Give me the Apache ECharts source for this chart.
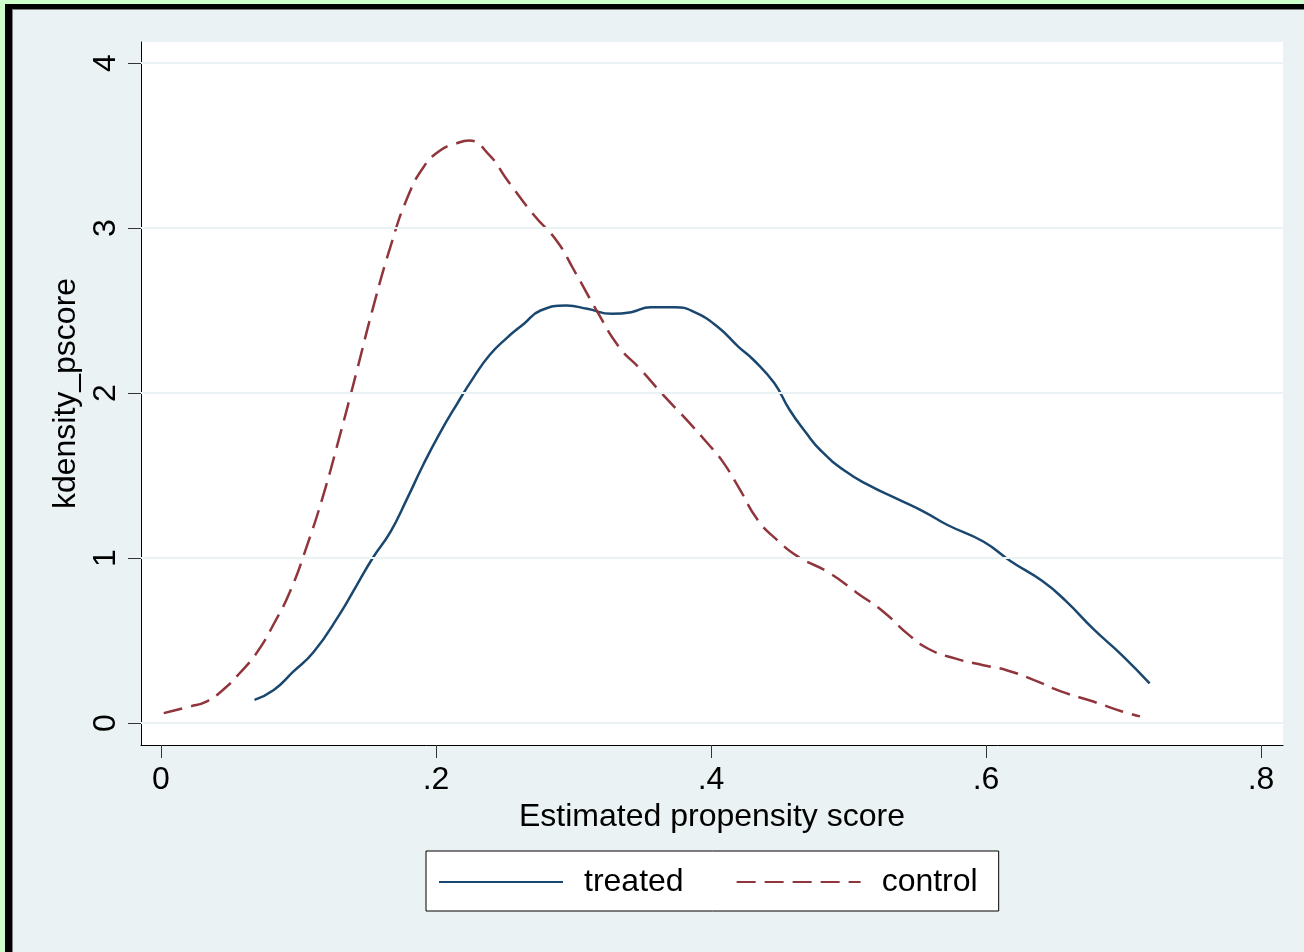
<!DOCTYPE html>
<html>
<head>
<meta charset="utf-8">
<script src="https://cdn.jsdelivr.net/npm/echarts@6/dist/echarts.min.js"></script>
<style>
html,body{margin:0;padding:0;background:#ccffcc;width:1304px;height:952px;overflow:hidden;}
#frame{position:absolute;left:5px;top:4px;right:0;bottom:0;background:#000;}
#bg{position:absolute;left:12px;top:9px;right:0;bottom:0;background:#eaf2f3;border-left:1px solid #808080;border-top:1px solid #808080;}
#chart{position:absolute;left:0;top:0;width:1304px;height:952px;}
</style>
</head>
<body>
<div id="frame"></div>
<div id="bg"></div>
<div id="chart"></div>
<script>
// Data
const xTicks = [0, 0.2, 0.4, 0.6, 0.8];
const xTickLabels = ['0', '.2', '.4', '.6', '.8'];
const yTicks = [0, 1, 2, 3, 4];

const treatedX = [0.068, 0.082, 0.096, 0.111, 0.130, 0.142, 0.154, 0.167, 0.179, 0.191, 0.203, 0.215, 0.227, 0.239, 0.251, 0.264, 0.276, 0.295, 0.310, 0.328, 0.342, 0.356, 0.374, 0.388, 0.405, 0.420, 0.431, 0.446, 0.457, 0.469, 0.480, 0.497, 0.515, 0.535, 0.555, 0.572, 0.598, 0.618, 0.641, 0.658, 0.678, 0.699, 0.719];
const treatedY = [0.14, 0.20, 0.31, 0.43, 0.66, 0.83, 1.00, 1.16, 1.36, 1.57, 1.76, 1.93, 2.09, 2.23, 2.33, 2.42, 2.50, 2.53, 2.51, 2.48, 2.49, 2.52, 2.52, 2.49, 2.40, 2.28, 2.20, 2.06, 1.90, 1.76, 1.65, 1.53, 1.44, 1.36, 1.28, 1.20, 1.10, 0.98, 0.86, 0.74, 0.57, 0.41, 0.24];

const controlX = [0.002, 0.021, 0.033, 0.045, 0.057, 0.070, 0.082, 0.094, 0.106, 0.118, 0.130, 0.142, 0.154, 0.167, 0.179, 0.191, 0.203, 0.214, 0.224, 0.239, 0.251, 0.271, 0.288, 0.300, 0.3175, 0.333, 0.348, 0.365, 0.382, 0.397, 0.408, 0.420, 0.434, 0.448, 0.463, 0.486, 0.506, 0.526, 0.543, 0.558, 0.578, 0.598, 0.615, 0.635, 0.655, 0.678, 0.699, 0.712];
const controlY = [0.06, 0.10, 0.13, 0.20, 0.30, 0.43, 0.60, 0.80, 1.07, 1.38, 1.74, 2.12, 2.51, 2.89, 3.18, 3.37, 3.47, 3.51, 3.53, 3.44, 3.30, 3.08, 2.92, 2.75, 2.49, 2.28, 2.15, 1.99, 1.84, 1.70, 1.59, 1.43, 1.23, 1.11, 1.01, 0.91, 0.79, 0.67, 0.54, 0.45, 0.39, 0.35, 0.32, 0.26, 0.19, 0.13, 0.07, 0.04];

const FONT = "'Liberation Sans', Arial, sans-serif";
const chart = echarts.init(document.getElementById('chart'), null, {renderer: 'canvas'});

const zip = (xs, ys) => xs.map((x, i) => [x, ys[i]]);

chart.setOption({
  backgroundColor: 'transparent',
  animation: false,
  grid: {
    left: 141, right: 21, top: 42, bottom: 207,
    show: true, backgroundColor: '#ffffff', borderWidth: 0
  },
  xAxis: {
    type: 'value',
    min: -0.014545, max: 0.816,
    name: 'Estimated propensity score',
    nameLocation: 'middle',
    nameGap: 55,
    nameTextStyle: {fontSize: 32, color: '#000', fontFamily: FONT},
    axisLine: {show: true, onZero: false, lineStyle: {color: '#000', width: 1}},
    axisTick: {show: true, length: 13, customValues: xTicks, lineStyle: {color: '#333', width: 1}},
    axisLabel: {
      customValues: xTicks, margin: 19, fontSize: 32, color: '#000', fontFamily: FONT,
      formatter: v => { const i = xTicks.findIndex(t => Math.abs(t - v) < 1e-9); return i >= 0 ? xTickLabels[i] : ''; }
    },
    splitLine: {show: false}
  },
  yAxis: {
    type: 'value',
    min: -0.13333, max: 4.12727,
    name: 'kdensity_pscore',
    nameLocation: 'middle',
    nameGap: 51,
    nameTextStyle: {fontSize: 32, color: '#000', fontFamily: FONT},
    axisLine: {show: true, onZero: false, lineStyle: {color: '#000', width: 1}},
    axisTick: {show: true, length: 13, customValues: yTicks, lineStyle: {color: '#333', width: 1}},
    axisLabel: {
      customValues: yTicks, rotate: 90, margin: 19, fontSize: 32, color: '#000', fontFamily: FONT,
      formatter: v => String(Math.round(v))
    },
    splitLine: {show: false}
  },
  legend: {
    data: ['treated', 'control'],
    left: 426, top: 851,
    orient: 'horizontal',
    itemWidth: 124, itemHeight: 20, itemGap: 52,
    padding: [15, 21, 13, 12],
    borderColor: '#000', borderWidth: 1, backgroundColor: '#ffffff',
    itemStyle: {opacity: 0},
    textStyle: {fontSize: 32, color: '#000', fontFamily: FONT, padding: [0, 0, 0, 16]}
  },
  series: [
    {
      name: 'grid',
      type: 'line',
      data: [],
      z: 1,
      silent: true,
      markLine: {
        silent: true,
        symbol: ['none', 'none'],
        label: {show: false},
        lineStyle: {color: '#eaf2f3', width: 2, type: 'solid'},
        data: yTicks.map(v => ({yAxis: v}))
      }
    },
    {
      name: 'treated',
      type: 'line',
      data: zip(treatedX, treatedY),
      smooth: 0.5,
      symbol: 'none',
      z: 3,
      lineStyle: {color: '#1a476f', width: 2.5, type: 'solid'},
      itemStyle: {color: '#1a476f'}
    },
    {
      name: 'control',
      type: 'line',
      data: zip(controlX, controlY),
      smooth: 0.5,
      symbol: 'none',
      z: 3,
      lineStyle: {color: '#90353b', width: 2.5, type: [19, 9]},
      itemStyle: {color: '#90353b'}
    }
  ]
});
</script>
</body>
</html>
